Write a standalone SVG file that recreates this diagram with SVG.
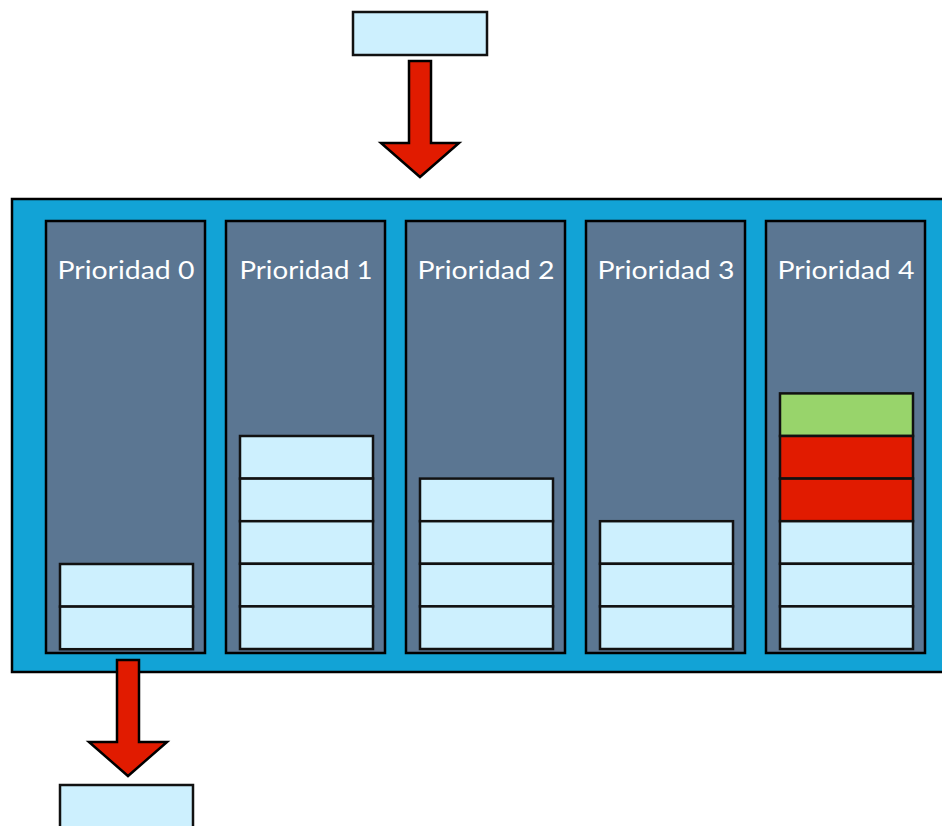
<svg xmlns="http://www.w3.org/2000/svg" width="942" height="826" viewBox="0 0 942 826">
<defs>
<style>
.box{fill:#cdf0fe;stroke:#111;stroke-width:2.5}
.col{fill:#5b7692;stroke:#000;stroke-width:2.5}
.red{fill:#e11b00;stroke:#111;stroke-width:2.5}
.green{fill:#98d46b;stroke:#111;stroke-width:2.5}
.arrow{fill:#e11b00;stroke:#000;stroke-width:2.5;stroke-linejoin:miter}
.lbl{font-family:Lato,"Open Sans",sans-serif;font-size:25px;fill:#ffffff;text-anchor:middle}
</style>
</defs>
<rect width="942" height="826" fill="#ffffff"/>
<g id="input-item"><rect class="box" x="353" y="12" width="134" height="43"/></g>
<g id="queue">
<rect x="12" y="199" width="940" height="473" fill="#12a3d6" stroke="#000" stroke-width="2.5"/>
</g>
<g id="prioridad-0">
<rect class="col" x="46" y="221" width="159" height="432"/>
<text class="lbl" x="126" y="279" textLength="137" lengthAdjust="spacingAndGlyphs">Prioridad 0</text>
<rect class="box" x="60" y="564" width="133" height="42.6"/>
<rect class="box" x="60" y="606.6" width="133" height="42.6"/>
</g>
<g id="prioridad-1">
<rect class="col" x="226" y="221" width="159" height="432"/>
<text class="lbl" x="306" y="279" textLength="133" lengthAdjust="spacingAndGlyphs">Prioridad 1</text>
<rect class="box" x="240" y="436" width="133" height="42.6"/>
<rect class="box" x="240" y="478.6" width="133" height="42.6"/>
<rect class="box" x="240" y="521.2" width="133" height="42.6"/>
<rect class="box" x="240" y="563.8" width="133" height="42.6"/>
<rect class="box" x="240" y="606.4" width="133" height="42.6"/>
</g>
<g id="prioridad-2">
<rect class="col" x="406" y="221" width="159" height="432"/>
<text class="lbl" x="486" y="279" textLength="137" lengthAdjust="spacingAndGlyphs">Prioridad 2</text>
<rect class="box" x="420" y="478.6" width="133" height="42.6"/>
<rect class="box" x="420" y="521.2" width="133" height="42.6"/>
<rect class="box" x="420" y="563.8" width="133" height="42.6"/>
<rect class="box" x="420" y="606.4" width="133" height="42.6"/>
</g>
<g id="prioridad-3">
<rect class="col" x="586" y="221" width="159" height="432"/>
<text class="lbl" x="666" y="279" textLength="137" lengthAdjust="spacingAndGlyphs">Prioridad 3</text>
<rect class="box" x="600" y="521.2" width="133" height="42.6"/>
<rect class="box" x="600" y="563.8" width="133" height="42.6"/>
<rect class="box" x="600" y="606.4" width="133" height="42.6"/>
</g>
<g id="prioridad-4">
<rect class="col" x="766" y="221" width="159" height="432"/>
<text class="lbl" x="846" y="279" textLength="137" lengthAdjust="spacingAndGlyphs">Prioridad 4</text>
<rect class="green" x="780" y="393.4" width="133" height="42.6"/>
<rect class="red" x="780" y="436" width="133" height="42.6"/>
<rect class="red" x="780" y="478.6" width="133" height="42.6"/>
<rect class="box" x="780" y="521.2" width="133" height="42.6"/>
<rect class="box" x="780" y="563.8" width="133" height="42.6"/>
<rect class="box" x="780" y="606.4" width="133" height="42.6"/>
</g>
<g id="output-item"><rect class="box" x="60" y="785" width="133" height="50"/></g>
<g id="connectors">
<path class="arrow" d="M409,61 H431 V143 H459 L420,177 L381,143 H409 Z"/>
<path class="arrow" d="M117,660 H139 V742 H167 L128,776 L89,742 H117 Z"/>
</g>
</svg>
